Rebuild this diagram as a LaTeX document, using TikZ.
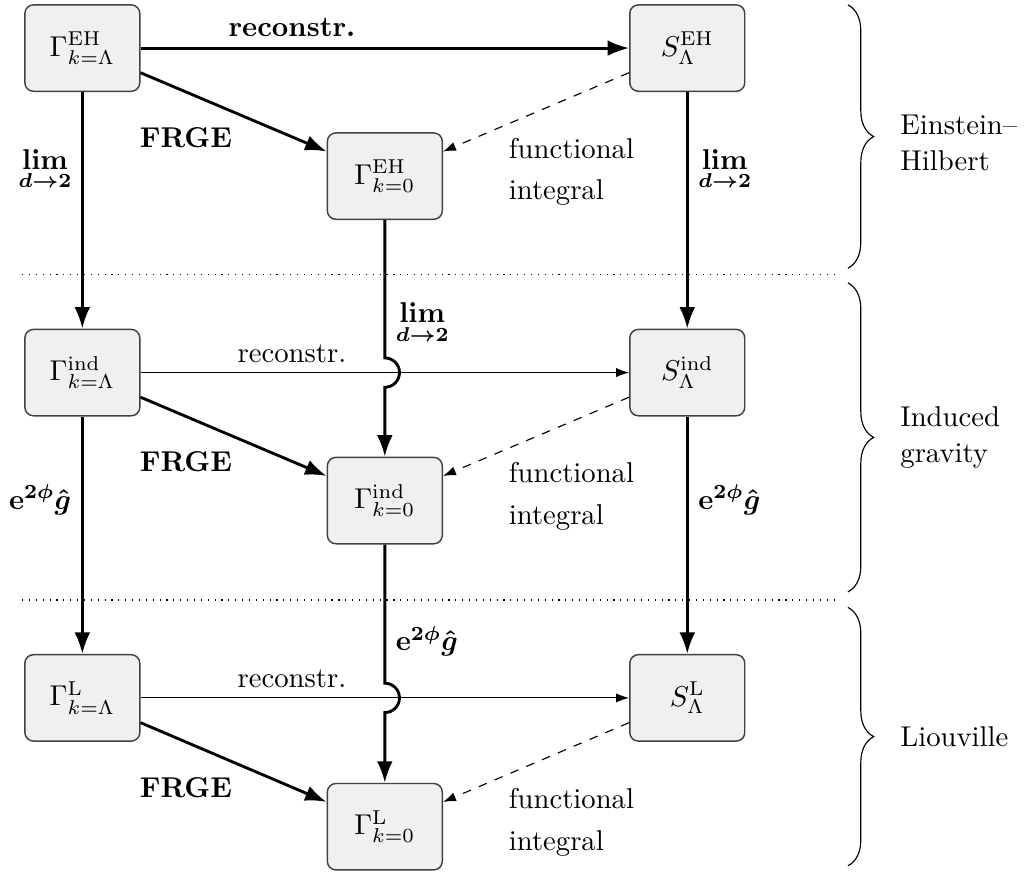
\documentclass[tikz,border=0pt]{standalone}
\usepackage{amsmath}
\usetikzlibrary{arrows.meta,decorations.pathreplacing}

\tikzset{
  boite/.style={draw=black!75,fill=black!6,rounded corners=3pt,line width=0.5pt,
    minimum width=1.41cm,minimum height=1.06cm},
  fleche/.style={line width=1pt,-{Latex[length=7.5pt,width=5.5pt]}},
  fine/.style={line width=0.4pt,-{Latex[length=4.5pt,width=3.2pt]}},
  integ/.style={dashed,line width=0.4pt,-{Latex[length=4.5pt,width=3.2pt]}},
  accol/.style={decorate,decoration={brace,amplitude=9pt},line width=0.4pt},
}
\newcommand{\limd}{{\boldmath$\displaystyle\lim_{d\to 2}$}}
\newcommand{\weyl}{{\boldmath$\mathrm{e}^{2\phi}\hat{g}$}}

\begin{document}
\begin{tikzpicture}
\useasboundingbox (0,0) rectangle (12.56,-10.71);

%boites Einstein-Hilbert
\node[boite] (gLeh) at (1.01,-0.59) {$\Gamma^{\mathrm{EH}}_{k=\Lambda}$};
\node[boite] (g0eh) at (4.72,-2.16) {$\Gamma^{\mathrm{EH}}_{k=0}$};
\node[boite] (Seh) at (8.43,-0.59) {$S^{\mathrm{EH}}_{\Lambda}$};

%boites induced gravity
\node[boite] (gLind) at (1.01,-4.57) {$\Gamma^{\mathrm{ind}}_{k=\Lambda}$};
\node[boite] (g0ind) at (4.72,-6.14) {$\Gamma^{\mathrm{ind}}_{k=0}$};
\node[boite] (Sind) at (8.43,-4.57) {$S^{\mathrm{ind}}_{\Lambda}$};

%boites Liouville
\node[boite] (gLL) at (1.01,-8.56) {$\Gamma^{\mathrm{L}}_{k=\Lambda}$};
\node[boite] (g0L) at (4.72,-10.14) {$\Gamma^{\mathrm{L}}_{k=0}$};
\node[boite] (SL) at (8.43,-8.56) {$S^{\mathrm{L}}_{\Lambda}$};

%croisements
\coordinate (c2) at (g0eh |- gLind);
\coordinate (c3) at (g0ind |- gLL);

%ligne EH
\draw[fleche] (gLeh) -- node[above,pos=0.31]{\textbf{reconstr.}} (Seh);
\draw[fleche] (gLeh) -- node[below left,pos=0.55]{\textbf{FRGE}} (g0eh);
\draw[integ] (Seh) -- node[pos=0.7,anchor=north west,align=left]{functional\\[2.5pt]integral} (g0eh);

%ligne ind
\draw[fine] (gLind) -- node[above,pos=0.31]{reconstr.} (Sind);
\draw[fleche] (gLind) -- node[below left,pos=0.55]{\textbf{FRGE}} (g0ind);
\draw[integ] (Sind) -- node[pos=0.7,anchor=north west,align=left]{functional\\[2.5pt]integral} (g0ind);

%ligne L
\draw[fine] (gLL) -- node[above,pos=0.31]{reconstr.} (SL);
\draw[fleche] (gLL) -- node[below left,pos=0.55]{\textbf{FRGE}} (g0L);
\draw[integ] (SL) -- node[pos=0.7,anchor=north west,align=left]{functional\\[2.5pt]integral} (g0L);

%limites d -> 2
\draw[fleche] (gLeh) -- node[left,pos=0.33]{\limd} (gLind);
\draw[fleche] (Seh) -- node[right,pos=0.33]{\limd} (Sind);
\draw[fleche] (g0eh) -- node[right,pos=0.75]{\limd} ([yshift=1.8mm]c2)
  arc[start angle=90,end angle=-90,radius=1.8mm] -- (g0ind);

%changement de metrique
\draw[fleche] (gLind) -- node[left,pos=0.35]{\weyl} (gLL);
\draw[fleche] (Sind) -- node[right,pos=0.35]{\weyl} (SL);
\draw[fleche] (g0ind) -- node[right,pos=0.7]{\weyl} ([yshift=1.8mm]c3)
  arc[start angle=90,end angle=-90,radius=1.8mm] -- (g0L);

%separations
\draw[dotted] (0.27,-3.37) -- (10.30,-3.37);
\draw[dotted] (0.27,-7.36) -- (10.30,-7.36);

%accolades
\draw[accol] (10.40,-0.06) -- (10.40,-3.29);
\node[anchor=west,align=left] (lbeh) at (10.92,-1.75) {Einstein--\\[0.5pt]Hilbert};
\draw[accol] (10.40,-3.47) -- (10.40,-7.26);
\node[anchor=west,align=left] (lbind) at (10.92,-5.37) {Induced\\[0.5pt]gravity};
\draw[accol] (10.40,-7.45) -- (10.40,-10.62);
\node[anchor=west] (lbL) at (10.92,-9.04) {Liouville};

\end{tikzpicture}
\end{document}
